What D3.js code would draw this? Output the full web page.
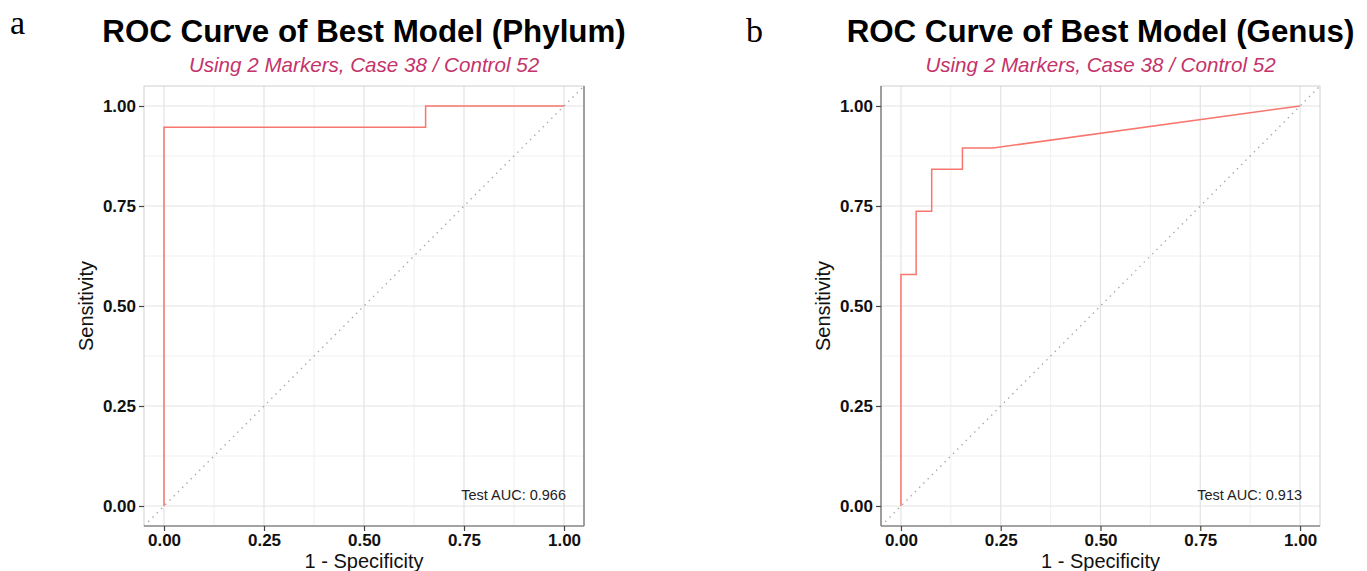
<!DOCTYPE html>
<html>
<head>
<meta charset="utf-8">
<script src="https://cdn.jsdelivr.net/npm/d3@7"></script>
<style>
  body { margin: 0; background: #fff; }
  svg { font-family: "Liberation Sans", Arial, sans-serif; }
</style>
</head>
<body>
<svg id="chart" width="1367" height="571"></svg>
<script>
// ROC points (1 - specificity, sensitivity)
const phylumFpr = [0, 0, 0.654, 0.654, 1];
const phylumTpr = [0, 0.947, 0.947, 1, 1];
const genusFpr = [0, 0, 0.038, 0.038, 0.077, 0.077, 0.154, 0.154, 0.231, 1];
const genusTpr = [0, 0.579, 0.579, 0.737, 0.737, 0.842, 0.842, 0.895, 0.895, 1];

const tickValues = [0, 0.25, 0.5, 0.75, 1];
const minorTicks = [0.125, 0.375, 0.625, 0.875];
const panelLetters = ["a", "b"];
const panelTitles = ["ROC Curve of Best Model (Phylum)", "ROC Curve of Best Model (Genus)"];
const subtitle = "Using 2 Markers, Case 38 / Control 52";
const aucLabels = ["Test AUC: 0.966", "Test AUC: 0.913"];

const svg = d3.select("#chart");

// panel frames in pixels
const panels = [
    {left: 144, right: 584, top: 86, bottom: 526, letterX: 10, letterY: 34, darkSide: "right"},
    {left: 881, right: 1320, top: 86, bottom: 526, letterX: 746, letterY: 42, darkSide: "left"}
];

const drawPanel = (fpr, tpr, p, i) => {
    const x = d3.scaleLinear().domain([-0.05, 1.05]).range([p.left, p.right]);
    const y = d3.scaleLinear().domain([-0.05, 1.05]).range([p.bottom, p.top]);
    const g = svg.append("g");
    const cx = (p.left + p.right) / 2;

    // grid lines
    g.selectAll(".minx").data(minorTicks).enter().append("line")
        .attr("x1", d => x(d)).attr("x2", d => x(d))
        .attr("y1", p.top).attr("y2", p.bottom)
        .attr("stroke", "#EEEEEE").attr("stroke-width", 0.9);
    g.selectAll(".miny").data(minorTicks).enter().append("line")
        .attr("y1", d => y(d)).attr("y2", d => y(d))
        .attr("x1", p.left).attr("x2", p.right)
        .attr("stroke", "#EEEEEE").attr("stroke-width", 0.9);
    g.selectAll(".majx").data(tickValues).enter().append("line")
        .attr("x1", d => x(d)).attr("x2", d => x(d))
        .attr("y1", p.top).attr("y2", p.bottom)
        .attr("stroke", "#E3E3E3").attr("stroke-width", 1.2);
    g.selectAll(".majy").data(tickValues).enter().append("line")
        .attr("y1", d => y(d)).attr("y2", d => y(d))
        .attr("x1", p.left).attr("x2", p.right)
        .attr("stroke", "#E3E3E3").attr("stroke-width", 1.2);

    // reference diagonal
    g.append("line")
        .attr("x1", x(-0.05)).attr("y1", y(-0.05))
        .attr("x2", x(1.05)).attr("y2", y(1.05))
        .attr("stroke", "#A8A8A8").attr("stroke-width", 1.3)
        .attr("stroke-dasharray", "1.5,4.5");

    // roc curve
    const line = d3.line().x(d => x(d[0])).y(d => y(d[1]));
    g.append("path")
        .datum(d3.zip(fpr, tpr))
        .attr("d", line)
        .attr("fill", "none")
        .attr("stroke", "#F8766D")
        .attr("stroke-width", 1.5);

    // panel border
    g.append("rect")
        .attr("x", p.left).attr("y", p.top)
        .attr("width", p.right - p.left).attr("height", p.bottom - p.top)
        .attr("fill", "none").attr("stroke", "#D0D0D0").attr("stroke-width", 1);
    g.append("line")
        .attr("x1", p.left).attr("x2", p.right).attr("y1", p.bottom).attr("y2", p.bottom)
        .attr("stroke", "#8C8C8C").attr("stroke-width", 1.6);
    const sideX = p.darkSide === "right" ? p.right : p.left;
    g.append("line")
        .attr("x1", sideX).attr("x2", sideX).attr("y1", p.top).attr("y2", p.bottom)
        .attr("stroke", "#8C8C8C").attr("stroke-width", 1.6);

    // axes
    const xAxis = d3.axisBottom(x).tickValues(tickValues)
        .tickSize(5).tickPadding(3).tickFormat(d3.format(".2f"));
    const yAxis = d3.axisLeft(y).tickValues(tickValues)
        .tickSize(5).tickPadding(3).tickFormat(d3.format(".2f"));
    const gx = g.append("g").attr("transform", `translate(0,${p.bottom})`).call(xAxis);
    const gy = g.append("g").attr("transform", `translate(${p.left},0)`).call(yAxis);
    [gx, gy].forEach(a => {
        a.select(".domain").remove();
        a.selectAll(".tick line").attr("stroke", "#444").attr("stroke-width", 1.2);
        a.selectAll(".tick text")
            .attr("fill", "#111")
            .style("font-size", "17px")
            .style("font-weight", "bold");
    });

    // axis titles
    g.append("text")
        .attr("x", cx).attr("y", 568)
        .attr("text-anchor", "middle")
        .style("font-size", "20px").attr("fill", "#111")
        .text("1 - Specificity");
    g.append("text")
        .attr("transform", `translate(${p.left - 51},${(p.top + p.bottom) / 2}) rotate(-90)`)
        .attr("text-anchor", "middle")
        .style("font-size", "20px").attr("fill", "#111")
        .text("Sensitivity");

    // auc label
    g.append("text")
        .attr("x", x(1) + 2).attr("y", 500)
        .attr("text-anchor", "end")
        .style("font-size", "14.5px").attr("fill", "#222")
        .text(aucLabels[i]);

    // titles
    g.append("text")
        .attr("x", cx).attr("y", 42)
        .attr("text-anchor", "middle")
        .style("font-size", "31.3px").style("font-weight", "bold").attr("fill", "#000")
        .text(panelTitles[i]);
    g.append("text")
        .attr("x", cx).attr("y", 72)
        .attr("text-anchor", "middle")
        .style("font-size", "20.6px").style("font-style", "italic").attr("fill", "#C4336A")
        .text(subtitle);

    // panel letter
    g.append("text")
        .attr("x", p.letterX).attr("y", p.letterY)
        .style("font-family", "'Liberation Serif', 'Times New Roman', serif")
        .style("font-size", "34px").attr("fill", "#000")
        .text(panelLetters[i]);
};

drawPanel(phylumFpr, phylumTpr, panels[0], 0);
drawPanel(genusFpr, genusTpr, panels[1], 1);
</script>
</body>
</html>
